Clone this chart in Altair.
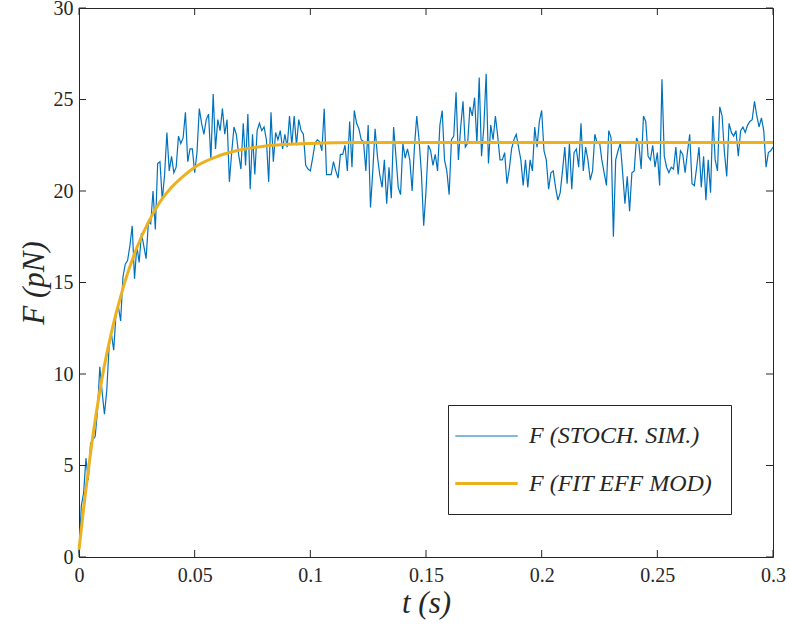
import altair as alt
import pandas as pd

# ---------------- data ----------------
t_step = 0.001  # sampling of the stochastic simulation (s)
stoch_F = [
    0.2, 2.8, 3.5, 5.4, 4.2, 6.2, 6.4, 6.6, 8.0, 10.4,
    9.0, 7.8, 9.1, 11.5, 12.2, 11.3, 13.3, 13.7, 12.9, 15.3,
    16.0, 16.2, 17.0, 18.1, 15.2, 17.0, 16.1, 17.7, 17.0, 16.3,
    18.3, 18.2, 20.0, 17.9, 21.5, 21.6, 19.5, 20.9, 23.2, 21.1,
    21.9, 21.0, 21.3, 23.0, 22.6, 22.9, 24.3, 21.6, 22.3, 22.3,
    21.0, 22.1, 24.5, 23.7, 23.1, 23.9, 24.2, 21.7, 25.3, 22.3,
    23.9, 23.3, 24.5, 23.1, 23.9, 20.5, 22.1, 23.5, 23.1, 22.0,
    21.2, 23.7, 21.4, 24.2, 20.1, 23.1, 20.9, 23.3, 23.7, 23.3,
    23.5, 22.8, 20.5, 24.3, 21.6, 23.2, 22.8, 23.3, 22.3, 23.1,
    22.4, 24.1, 22.5, 24.1, 22.5, 23.9, 23.3, 23.1, 21.4, 21.2,
    21.1, 21.8, 22.6, 22.8, 22.7, 22.2, 24.5, 20.9, 20.9, 20.9,
    21.6, 21.1, 20.7, 22.0, 22.0, 22.5, 21.1, 23.8, 21.3, 24.4,
    23.7, 23.4, 22.8, 22.7, 21.1, 23.6, 19.1, 21.1, 23.4, 21.9,
    20.9, 20.2, 21.7, 19.3, 21.3, 19.6, 23.5, 21.9, 20.2, 19.8,
    22.6, 21.8, 22.3, 21.7, 20.0, 22.4, 24.1, 22.8, 21.0, 18.1,
    20.0, 22.5, 22.2, 21.4, 22.0, 21.1, 23.6, 24.4, 21.7, 21.1,
    19.8, 22.8, 23.0, 25.4, 21.7, 23.5, 24.9, 22.4, 22.6, 24.6,
    24.1, 25.1, 22.6, 26.2, 21.9, 23.5, 26.4, 21.5, 23.6, 22.8,
    24.1, 23.0, 21.7, 21.7, 22.1, 20.4, 21.2, 22.3, 22.8, 23.1,
    22.4, 21.7, 20.3, 21.7, 20.2, 21.7, 21.1, 23.5, 22.4, 23.8,
    24.4, 22.2, 21.7, 20.1, 21.0, 21.1, 20.2, 19.5, 19.9, 21.1,
    22.4, 20.4, 22.6, 20.1, 22.1, 22.3, 21.3, 23.7, 21.1, 22.4,
    21.7, 20.6, 21.1, 23.1, 22.6, 22.7, 21.7, 21.0, 20.3, 23.3,
    22.9, 17.5, 21.7, 22.2, 22.6, 21.0, 19.3, 20.8, 18.9, 21.0,
    21.1, 22.9, 22.6, 21.2, 24.1, 23.8, 21.9, 21.7, 22.5, 21.3,
    22.1, 20.3, 26.1, 21.9, 21.3, 21.0, 21.3, 21.2, 22.4, 20.9,
    22.2, 22.0, 21.0, 22.1, 23.1, 20.4, 20.3, 21.3, 22.4, 20.2,
    21.9, 19.5, 21.7, 19.9, 24.1, 21.7, 21.1, 24.6, 24.1, 22.1,
    20.8, 23.7, 23.2, 23.0, 23.3, 21.9, 23.3, 23.5, 23.2, 23.6,
    23.8, 23.9, 24.9, 24.1, 23.5, 24.0, 23.3, 21.3, 22.1, 22.2,
    22.4,
]
fit_t = [0, 0.0025, 0.005, 0.0075, 0.01, 0.0125, 0.015, 0.0175, 0.02, 0.025,
         0.03, 0.035, 0.04, 0.045, 0.05, 0.06, 0.07, 0.08, 0.09, 0.1,
         0.12, 0.15, 0.2, 0.25, 0.3]
fit_F = [0.4, 3.2, 5.7, 7.9, 9.8, 11.4, 12.8, 14.0, 15.1, 16.9,
         18.3, 19.4, 20.2, 20.8, 21.3, 21.9, 22.25, 22.45, 22.55, 22.6,
         22.65, 22.65, 22.65, 22.65, 22.65]
x_ticks = [0, 0.05, 0.1, 0.15, 0.2, 0.25, 0.3]
y_ticks = [0, 5, 10, 15, 20, 25, 30]
series_names = ["F (STOCH. SIM.)", "F (FIT EFF MOD)"]

# ---------------- tables ----------------
stoch = pd.DataFrame({"t": [round(i * t_step, 3) for i in range(len(stoch_F))],
                      "F": stoch_F, "series": series_names[0]})
fit = pd.DataFrame({"t": fit_t, "F": fit_F, "series": series_names[1]})
xt = pd.DataFrame({"t": x_ticks})
yt = pd.DataFrame({"F": y_ticks})

W, H = 694, 549
SERIF = "Liberation Serif"
INK = "#262626"

xscale = alt.Scale(domain=[0, 0.3], nice=False, zero=False)
yscale = alt.Scale(domain=[0, 30], nice=False)
cscale = alt.Scale(domain=series_names, range=["#0072BD", "#EDB120"])
wscale = alt.Scale(domain=series_names, range=[1.2, 3.0])

legend = alt.Legend(
    title=None, orient="none", legendX=369, legendY=397, direction="vertical",
    symbolType="M-2.6,0L2.6,0", symbolSize=576, symbolOffset=7,
    labelOffset=29, labelFont=SERIF, labelFontStyle="italic", labelFontSize=24,
    labelColor=INK, labelLimit=400, strokeColor=INK, fillColor="white", padding=18,
    rowPadding=22,
)

xaxis = alt.Axis(values=x_ticks, format="~g", title="t (s)", labelFlush=False)
yaxis = alt.Axis(values=y_ticks, title="F (pN)", labelFlush=False)

X = alt.X("t:Q", scale=xscale, axis=xaxis)
Y = alt.Y("F:Q", scale=yscale, axis=yaxis)

base_enc = dict(
    x=X, y=Y,
    color=alt.Color("series:N", scale=cscale, legend=legend),
    strokeWidth=alt.StrokeWidth("series:N", scale=wscale, legend=legend),
)

blue = alt.Chart(stoch).mark_line(interpolate="linear").encode(**base_enc)
orange = alt.Chart(fit).mark_line(interpolate="monotone").encode(**base_enc)

ticks_bottom = alt.Chart(xt).mark_rule(color=INK, strokeWidth=1).encode(
    x=X, y=alt.value(H), y2=alt.value(H - 7))
ticks_top = alt.Chart(xt).mark_rule(color=INK, strokeWidth=1).encode(
    x=X, y=alt.value(0), y2=alt.value(7))
ticks_left = alt.Chart(yt).mark_rule(color=INK, strokeWidth=1).encode(
    y=Y, x=alt.value(0), x2=alt.value(7))
ticks_right = alt.Chart(yt).mark_rule(color=INK, strokeWidth=1).encode(
    y=Y, x=alt.value(W), x2=alt.value(W - 7))

chart = alt.layer(
    blue, orange, ticks_bottom, ticks_top, ticks_left, ticks_right
).properties(
    width=W, height=H,
    autosize=alt.AutoSizeParams(type="none"),
    padding={"left": 79, "top": 8, "right": 17, "bottom": 75},
    background="white",
).configure_view(
    stroke=INK, strokeWidth=1
).configure_axis(
    grid=False, domain=False, ticks=False, tickSize=0,
    labelFont=SERIF, labelFontSize=20, labelColor=INK,
    titleFont=SERIF, titleFontStyle="italic", titleFontWeight="normal",
    titleFontSize=31, titleColor=INK,
).configure_axisX(
    labelPadding=8, titlePadding=3,
).configure_axisY(
    labelPadding=6, titlePadding=3,
)

chart.save("out.html", embed_options={"renderer": "svg", "actions": False})
